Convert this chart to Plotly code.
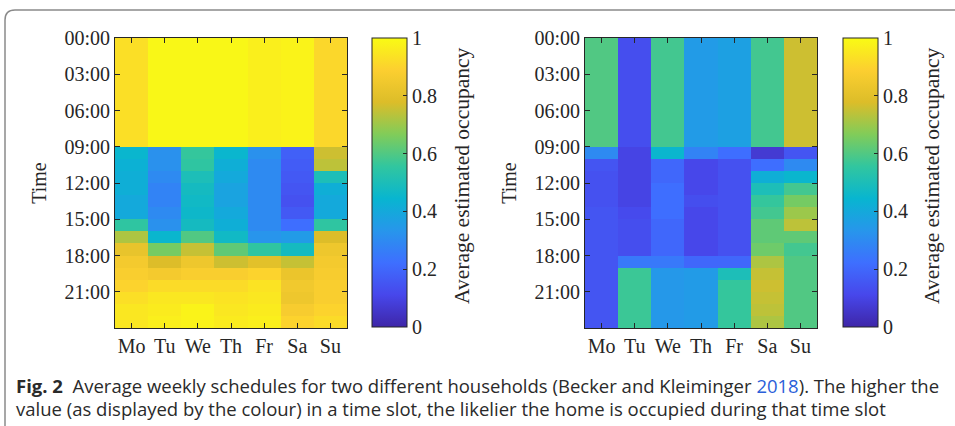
import plotly.graph_objects as go

W, H = 955, 426

days = ["Mo", "Tu", "We", "Th", "Fr", "Sa", "Su"]
hour_ticks = [0, 3, 6, 9, 12, 15, 18, 21]
hour_labels = ["00:00", "03:00", "06:00", "09:00", "12:00", "15:00", "18:00", "21:00"]

# Household 1: hourly average occupancy (rows 00:00 .. 23:00) per weekday
h1_mo = [0.93]*9 + [0.45, 0.43, 0.42, 0.42, 0.40, 0.40, 0.55, 0.72, 0.82, 0.86, 0.88, 0.90, 0.93, 0.95, 0.95]
h1_tu = [0.99]*9 + [0.32, 0.32, 0.30, 0.28, 0.28, 0.30, 0.32, 0.45, 0.65, 0.78, 0.86, 0.92, 0.95, 0.96, 0.97]
h1_we = [0.99]*9 + [0.56, 0.55, 0.50, 0.48, 0.47, 0.46, 0.48, 0.60, 0.75, 0.84, 0.88, 0.92, 0.95, 0.98, 0.98]
h1_th = [0.99]*9 + [0.45, 0.42, 0.40, 0.38, 0.38, 0.40, 0.42, 0.47, 0.62, 0.76, 0.88, 0.92, 0.94, 0.95, 0.96]
h1_fr = [0.97]*9 + [0.32, 0.30, 0.30, 0.30, 0.30, 0.30, 0.30, 0.33, 0.55, 0.80, 0.90, 0.94, 0.95, 0.96, 0.97]
h1_sa = [0.98]*9 + [0.18, 0.17, 0.16, 0.15, 0.14, 0.16, 0.22, 0.35, 0.48, 0.75, 0.83, 0.85, 0.84, 0.87, 0.90]
h1_su = [0.91]*9 + [0.76, 0.74, 0.50, 0.42, 0.40, 0.40, 0.55, 0.78, 0.84, 0.86, 0.87, 0.88, 0.88, 0.90, 0.92]

# Household 2
h2_mo = [0.60]*9 + [0.30, 0.15, 0.14, 0.14, 0.14, 0.15, 0.15, 0.15, 0.15, 0.15, 0.15, 0.15, 0.15, 0.15, 0.15]
h2_tu = [0.13]*9 + [0.10, 0.10, 0.10, 0.10, 0.10, 0.12, 0.13, 0.13, 0.13, 0.25, 0.57, 0.57, 0.57, 0.57, 0.57]
h2_we = [0.58]*9 + [0.45, 0.20, 0.20, 0.22, 0.22, 0.22, 0.20, 0.20, 0.20, 0.25, 0.34, 0.34, 0.34, 0.34, 0.34]
h2_th = [0.35]*9 + [0.28, 0.11, 0.11, 0.11, 0.13, 0.11, 0.11, 0.11, 0.11, 0.20, 0.35, 0.35, 0.35, 0.35, 0.35]
h2_fr = [0.37]*9 + [0.22, 0.14, 0.14, 0.14, 0.14, 0.14, 0.14, 0.14, 0.14, 0.20, 0.50, 0.56, 0.56, 0.56, 0.56]
h2_sa = [0.58]*9 + [0.07, 0.22, 0.42, 0.50, 0.56, 0.58, 0.62, 0.62, 0.64, 0.72, 0.75, 0.76, 0.75, 0.74, 0.72]
h2_su = [0.76]*9 + [0.15, 0.30, 0.45, 0.58, 0.65, 0.70, 0.74, 0.62, 0.58, 0.60, 0.60, 0.60, 0.60, 0.60, 0.60]

hh1 = [h1_mo, h1_tu, h1_we, h1_th, h1_fr, h1_sa, h1_su]
hh2 = [h2_mo, h2_tu, h2_we, h2_th, h2_fr, h2_sa, h2_su]

cbar_ticks = [0, 0.2, 0.4, 0.6, 0.8, 1]
cbar_labels = ["0", "0.2", "0.4", "0.6", "0.8", "1"]
cbar_title = "Average estimated occupancy"

parula = [
    [0.0, "rgb(62,38,168)"],
    [1/9, "rgb(71,71,235)"],
    [2/9, "rgb(62,111,255)"],
    [3/9, "rgb(39,150,235)"],
    [4/9, "rgb(8,181,208)"],
    [5/9, "rgb(49,198,159)"],
    [6/9, "rgb(129,204,89)"],
    [7/9, "rgb(220,189,41)"],
    [8/9, "rgb(252,207,48)"],
    [1.0, "rgb(249,251,20)"],
]

def transpose(cols):
    return [[cols[d][h] for d in range(len(cols))] for h in range(len(cols[0]))]

hours_c = [h + 0.5 for h in range(24)]

def px_x(x):
    return x / W

def px_y(y):
    return 1 - y / H

SERIF = "Liberation Serif"
INK = "#262626"
fig = go.Figure()

panels = [
    (hh1, 115, 347, 372, 462, "x", "y"),
    (hh2, 585, 817, 843, 932, "x2", "y2"),
]
for i, (data, x0, x1, cbx, ttx, xa, ya) in enumerate(panels):
    fig.add_trace(go.Heatmap(
        z=transpose(data), x=days, y=hours_c,
        colorscale=parula, zmin=0, zmax=1, zsmooth=False,
        xaxis=xa, yaxis=ya,
        colorbar=dict(
            x=px_x(cbx), xanchor="left", xpad=0, ypad=0,
            y=px_y(327), yanchor="bottom", len=289, lenmode="pixels",
            thickness=35, thicknessmode="pixels",
            outlinewidth=1, outlinecolor=INK,
            tickvals=cbar_ticks, ticktext=cbar_labels,
            ticks="inside", ticklen=4, tickcolor=INK,
            tickfont=dict(family=SERIF, size=20, color=INK),
        ),
    ))
    fig.add_annotation(
        x=px_x(ttx), y=px_y(176), xref="paper", yref="paper",
        xanchor="center", yanchor="middle", textangle=-90, showarrow=False,
        text=cbar_title, font=dict(family=SERIF, size=21.5, color=INK))
    axx = dict(domain=[px_x(x0), px_x(x1)], anchor=ya, range=[-0.5, 6.5],
               type="category", tickvals=days, ticks="inside", ticklen=5,
               tickcolor=INK, showline=True, linecolor=INK, linewidth=1,
               mirror="ticks", tickfont=dict(family=SERIF, size=20, color=INK),
               showgrid=False, zeroline=False)
    axy = dict(domain=[px_y(328), px_y(38)], anchor=xa, range=[24, 0],
               tickvals=hour_ticks, ticktext=hour_labels, ticks="inside", ticklen=5,
               tickcolor=INK, showline=True, linecolor=INK, linewidth=1,
               mirror="ticks", tickfont=dict(family=SERIF, size=20, color=INK),
               showgrid=False, zeroline=False,
               title=dict(text="Time", standoff=12,
                          font=dict(family=SERIF, size=20, color=INK)))
    if i == 0:
        fig.update_layout(xaxis=axx, yaxis=axy)
    else:
        fig.update_layout(xaxis2=axx, yaxis2=axy)

# Frame around figure
fx0, fy0, r = 5, 10, 10
path = (f"M {px_x(fx0)},{px_y(440)} L {px_x(fx0)},{px_y(fy0 + r)} "
        f"Q {px_x(fx0)},{px_y(fy0)} {px_x(fx0 + r)},{px_y(fy0)} L {px_x(970)},{px_y(fy0)}")
fig.add_shape(type="path", path=path, xref="paper", yref="paper",
              line=dict(color="#8a8a8a", width=1.5))

CAP = "Open Sans"
fig.add_annotation(
    x=px_x(14), y=px_y(385), xref="paper", yref="paper", xanchor="left", yanchor="middle",
    showarrow=False, font=dict(family=CAP, size=18.5, color="#2a2a2a"),
    text="<b>Fig. 2</b>  Average weekly schedules for two different households (Becker and Kleiminger "
         "<span style='color:#2b5fd9'>2018</span>). The higher the")
fig.add_annotation(
    x=px_x(14), y=px_y(408), xref="paper", yref="paper", xanchor="left", yanchor="middle",
    showarrow=False, font=dict(family=CAP, size=18.5, color="#2a2a2a"),
    text="value (as displayed by the colour) in a time slot, the likelier the home is occupied during that time slot")

fig.update_layout(
    width=W, height=H, margin=dict(l=0, r=0, t=0, b=0, pad=0, autoexpand=False),
    paper_bgcolor="white", plot_bgcolor="white", showlegend=False,
)

fig.write_html("out.html", config={"displayModeBar": False},
               post_script="document.body.style.margin='0px';")
